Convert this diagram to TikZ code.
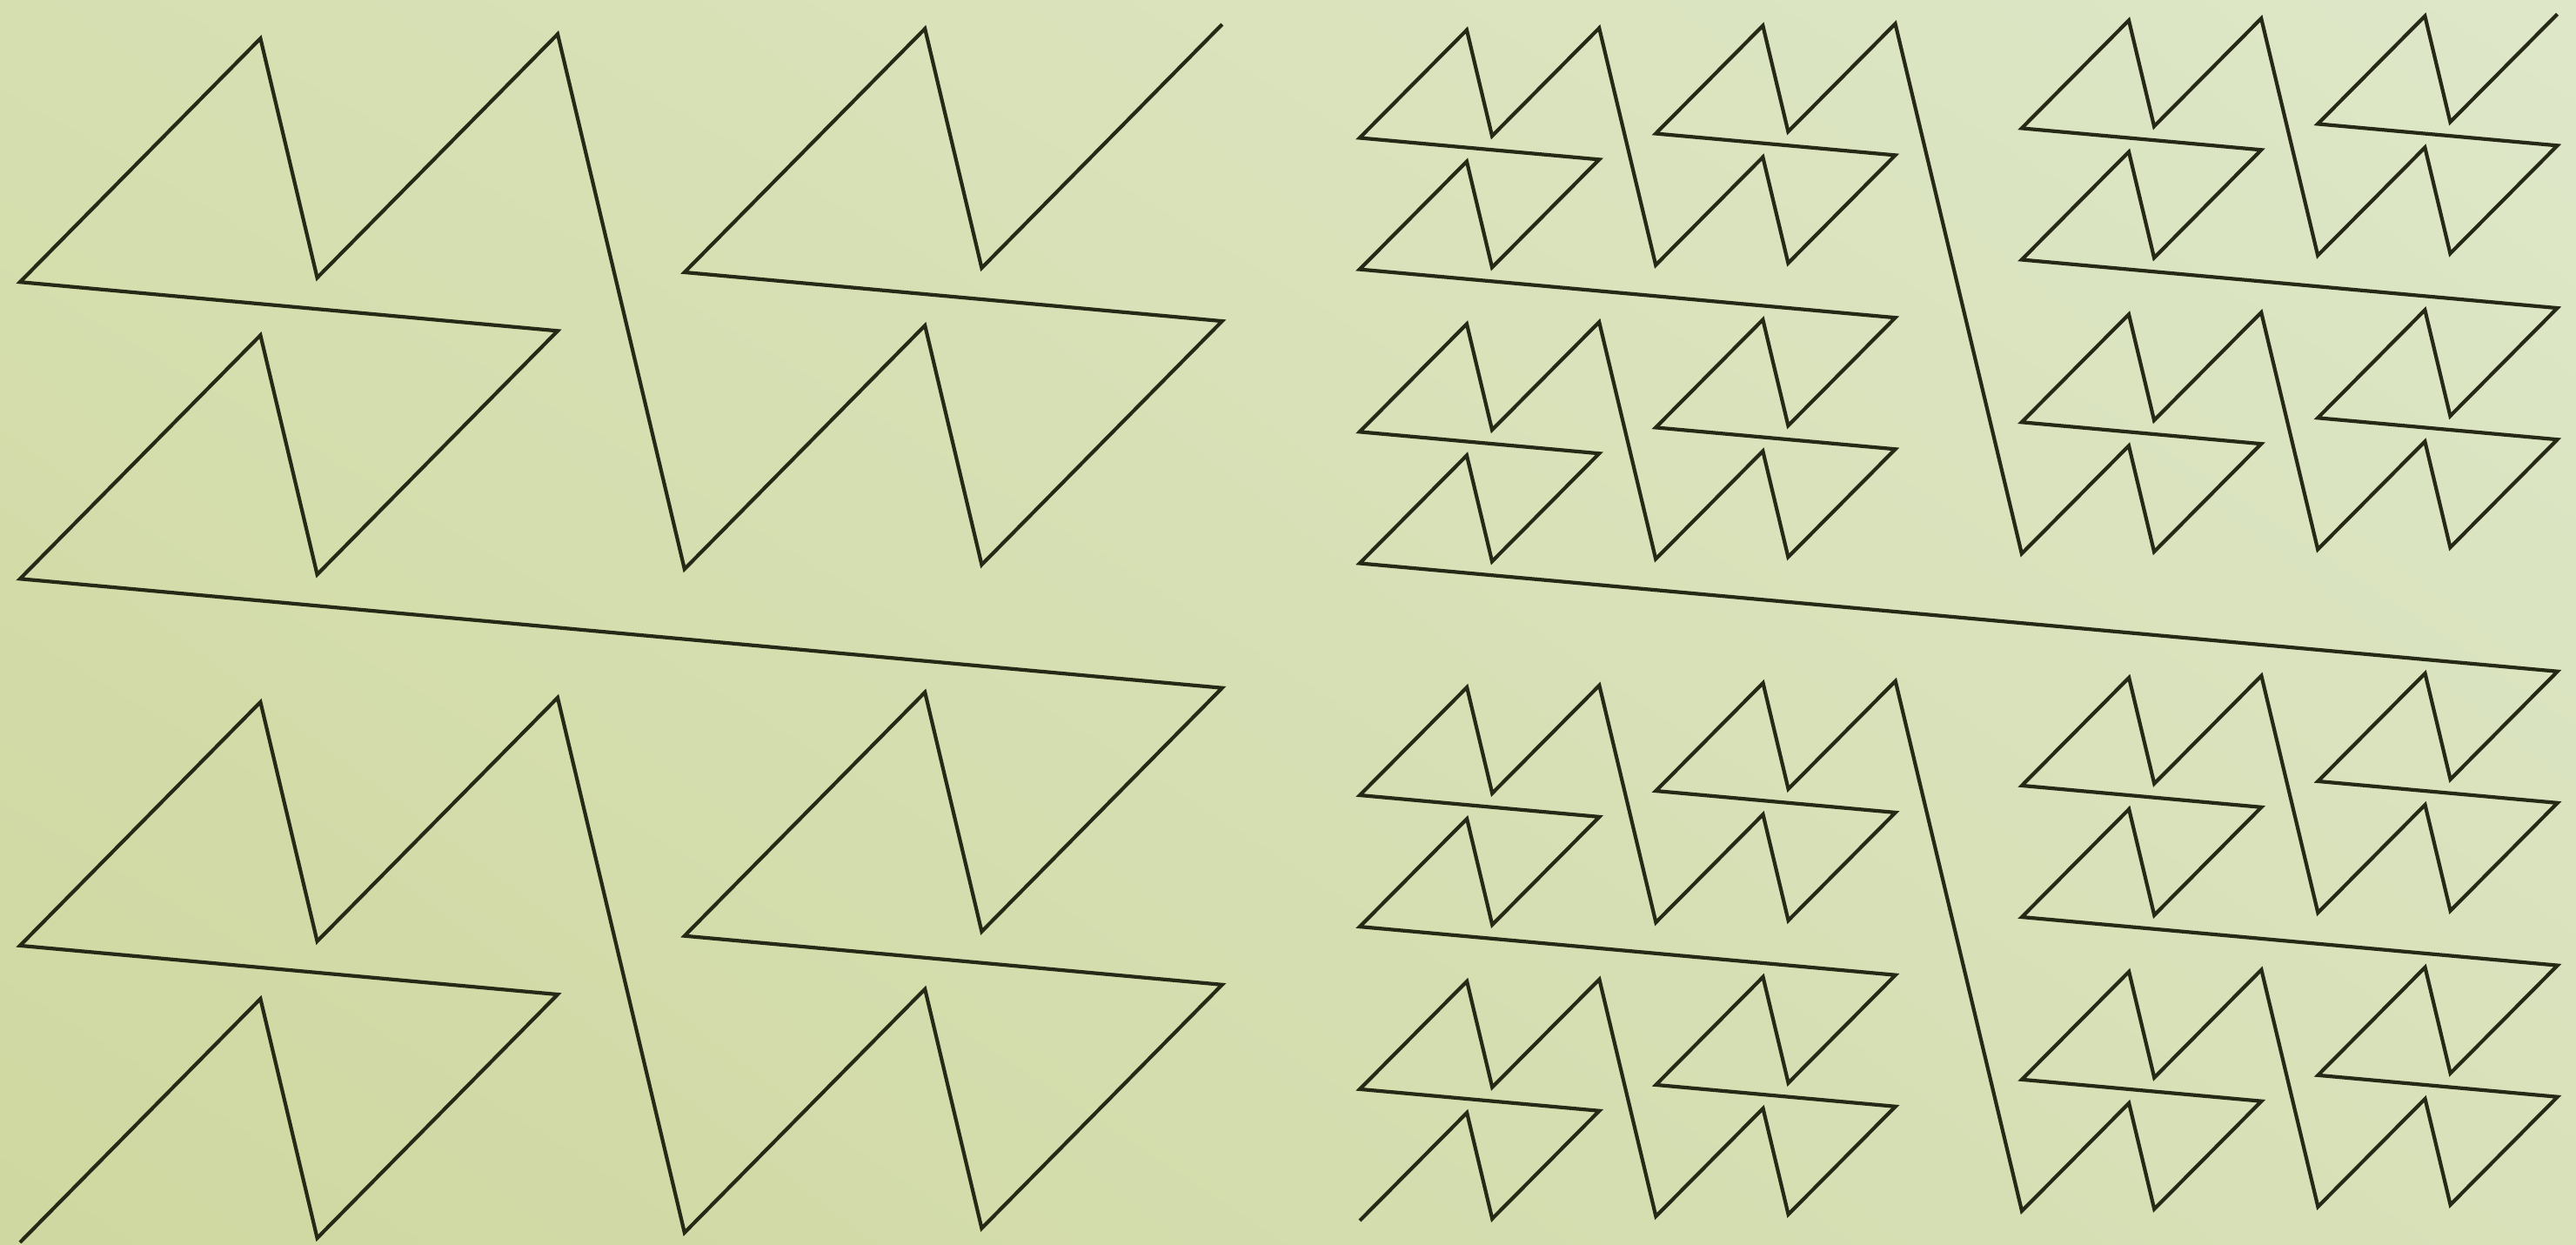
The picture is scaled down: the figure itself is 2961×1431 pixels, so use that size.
\documentclass[tikz,border=0pt]{standalone}
\usetikzlibrary{shadings}
\definecolor{bgUL}{HTML}{D6DFB0}
\definecolor{bgUR}{HTML}{DEE7C8}
\definecolor{bgLL}{HTML}{CFD8A0}
\definecolor{bgLR}{HTML}{D8E1B9}
\definecolor{ink}{HTML}{262916}
\tikzset{curve/.style={draw=ink, line width=4.2pt, line join=miter}}
% recursive curve pieces (relative moves, image coordinates, y down)
\def\Fa{-- ++(276.4,-280)}
\def\Fb{\Fa -- ++(65.2,275) \Fa}
\def\Fc{\Fb -- ++(-618,-56.1) \Fb}
\def\Fd{\Fc -- ++(145.8,614.9) \Fc}
\def\Fe{\Fd -- ++(-1381.8,-125.4) \Fd}
\def\Ff{\Fe -- ++(326,1375) \Fe}
\def\Fg{\Ff -- ++(-3090,-280.5) \Ff}
\begin{document}
\begin{tikzpicture}[x=1pt,y=-1pt]
\useasboundingbox (0,0) rectangle (2961,1431);
\shade[upper left=bgUL, upper right=bgUR, lower left=bgLL, lower right=bgLR] (0,0) rectangle (2961,1431);
% left figure
\coordinate (startL) at (23,1428);
\path[curve] (startL) \Fe;
% right figure (one more level, scaled down)
\coordinate (startR) at (1563,1403);
\begin{scope}[shift={(startR)}, xscale=0.4456, yscale=0.4430]
\path[curve] (0,0) \Fg;
\end{scope}
\end{tikzpicture}
\end{document}
